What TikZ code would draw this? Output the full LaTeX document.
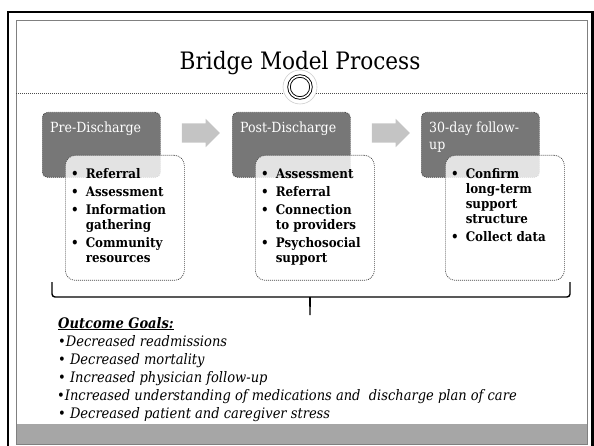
\documentclass[tikz,border=0pt]{standalone}
\usepackage{fontspec}
\setmainfont{DejaVu Serif Condensed}
\usetikzlibrary{shapes.arrows}

\definecolor{stagegray}{RGB}{119,119,119}
\definecolor{arrowgray}{RGB}{196,196,196}
\definecolor{bargray}{RGB}{166,166,166}
\definecolor{ringgray}{RGB}{205,205,205}

\begin{document}
\begin{tikzpicture}[x=1pt,y=-1pt,
  stagebox/.style={draw=black!75, line width=0.7pt, dash pattern=on 1pt off 1pt,
    fill=stagegray, rounded corners=5pt, minimum width=118pt, minimum height=65pt,
    inner sep=0pt, anchor=north west},
  detailbox/.style={draw=black!75, line width=0.7pt, dash pattern=on 1pt off 1pt,
    fill=white, fill opacity=0.8, rounded corners=10pt, minimum width=119pt,
    minimum height=125pt, inner sep=0pt, anchor=north west},
  stagelabel/.style={text=white, font=\fontsize{14}{17}\selectfont, align=left,
    anchor=north west, inner sep=0pt},
  itemlist/.style={font=\bfseries\fontsize{13.2}{15}\selectfont, anchor=north west,
    inner sep=0pt},
  flowarrow/.style={single arrow, fill=arrowgray, minimum height=38pt,
    inner xsep=0pt, inner ysep=9.5pt, single arrow head extend=4.5pt,
    single arrow tip angle=90},
  goal/.style={anchor=base west, inner sep=0pt, font=\itshape\fontsize{14.5}{17}\selectfont},
  brace/.style={line width=1.4pt, rounded corners=3pt},
]
\useasboundingbox (0,0) rectangle (594,446);

% slide frame, footer band and title rule
\draw[black, line width=2.3pt] (7.8,12) rectangle (592.6,452);
\fill[bargray] (16,424) rectangle (587,444);
\draw[gray, line width=0.8pt] (16,20) rectangle (587,444);
\draw[black!70, line width=0.6pt, dash pattern=on 1pt off 1pt] (16,93) -- (587,93);

\node[font=\fontsize{24}{28}\selectfont, anchor=base, inner sep=0pt] (title) at (300,70) {Bridge Model Process};

% ring ornament on the title rule
\node[circle, draw=ringgray, fill=white, line width=0.6pt, minimum size=34pt, inner sep=0pt] (hub) at (300,87) {};
\node[circle, draw=black, double=white, double distance=1.6pt, line width=0.9pt, minimum size=22pt, inner sep=0pt] (ring) at (hub.center) {};

% stage headers
\node[stagebox] (pre) at (42,112) {};
\node[stagebox] (post) at (232,112) {};
\node[stagebox] (follow) at (421,112) {};

\node[stagelabel] (preL) at (50,121.5) {Pre-Discharge};
\node[stagelabel] (postL) at (240,121.5) {Post-Discharge};
\node[stagelabel] (followL) at (429,121.5) {30-day follow-\\up};

% arrows between stages
\node[flowarrow] (a1) at (196,133) {};
\node[flowarrow] (a2) at (386,133) {};

% detail cards
\node[detailbox] (preD) at (65,155) {};
\node[detailbox] (postD) at (255,155) {};
\node[detailbox] (followD) at (445,155) {};

\node[itemlist] (preI) at (71,167.5) {\begin{tabular}{@{}l@{\hspace{7pt}}l@{}}
\textbullet & Referral\\[3pt]
\textbullet & Assessment\\[3pt]
\textbullet & Information\\
 & gathering\\[3pt]
\textbullet & Community\\
 & resources
\end{tabular}};

\node[itemlist] (postI) at (261,167.5) {\begin{tabular}{@{}l@{\hspace{7pt}}l@{}}
\textbullet & Assessment\\[3pt]
\textbullet & Referral\\[3pt]
\textbullet & Connection\\
 & to providers\\[3pt]
\textbullet & Psychosocial\\
 & support
\end{tabular}};

\node[itemlist] (followI) at (451,167.5) {\begin{tabular}{@{}l@{\hspace{7pt}}l@{}}
\textbullet & Confirm\\
 & long-term\\
 & support\\
 & structure\\[3pt]
\textbullet & Collect data
\end{tabular}};

% brace gathering the three stages
\draw[brace] (52,282) |- (307,297) .. controls (309.5,297) and (310,299) .. (310,317)
  .. controls (310,299) and (310.5,297) .. (313,297) -| (570,282);

% outcome goals
\node[goal, font=\bfseries\itshape\fontsize{14.5}{17}\selectfont] (g0) at (58,328) {\underline{Outcome Goals:}};
\node[goal] (g1) at (58,346) {\textbullet Decreased readmissions};
\node[goal] (g2) at (58,364) {\textbullet{} Decreased mortality};
\node[goal] (g3) at (58,382) {\textbullet{} Increased physician follow-up};
\node[goal] (g4) at (57,400) {\textbullet Increased understanding of medications and\ \ discharge plan of care};
\node[goal] (g5) at (58,418) {\textbullet{} Decreased patient and caregiver stress};
\end{tikzpicture}
\end{document}
